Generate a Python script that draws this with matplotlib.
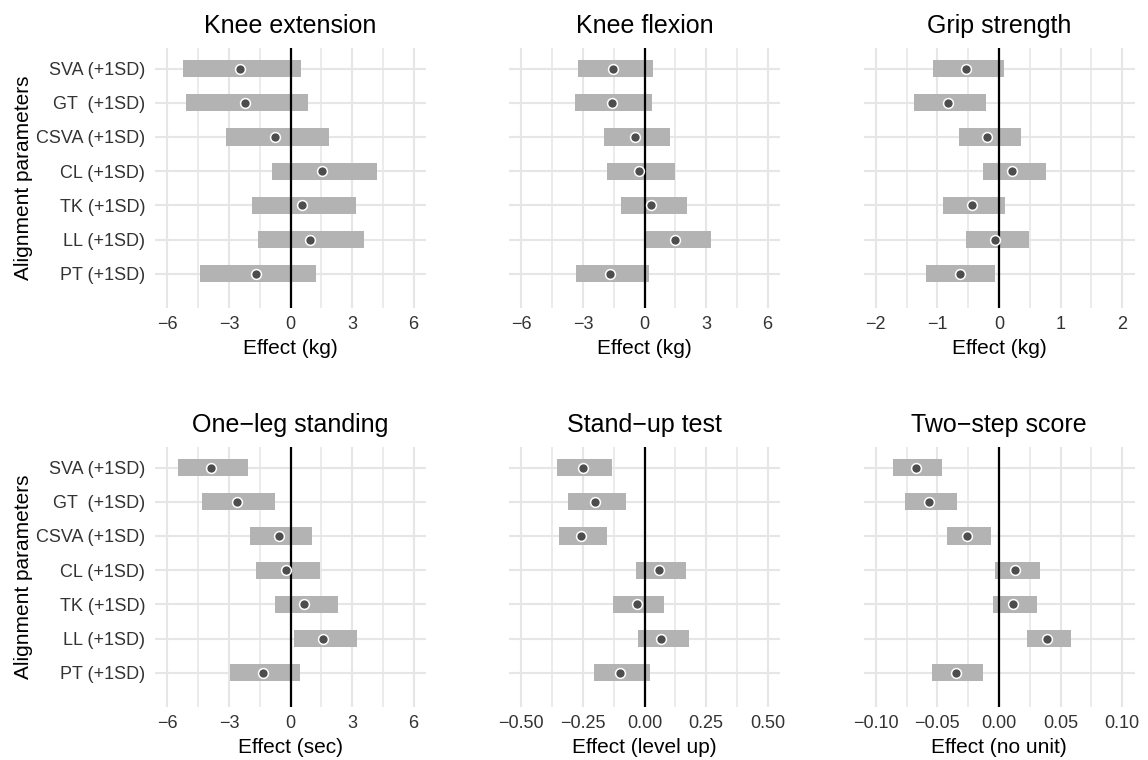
import numpy as np
import matplotlib
matplotlib.use("Agg")
import matplotlib.pyplot as plt
from matplotlib.ticker import MultipleLocator

plt.rcParams['font.family'] = ['Liberation Sans', 'DejaVu Sans']

# -------------------------------
# Data (rows top to bottom)
# -------------------------------
params = ["SVA (+1SD)", "GT  (+1SD)", "CSVA (+1SD)", "CL (+1SD)",
          "TK (+1SD)", "LL (+1SD)", "PT (+1SD)"]

knee_ext_est = [-2.46, -2.22, -0.76, 1.54, 0.57, 0.94, -1.69]
knee_ext_lo = [-5.24, -5.09, -3.16, -0.92, -1.88, -1.56, -4.41]
knee_ext_hi = [0.49, 0.84, 1.86, 4.22, 3.19, 3.60, 1.22]

knee_flex_est = [-1.52, -1.60, -0.44, -0.27, 0.33, 1.49, -1.66]
knee_flex_lo = [-3.24, -3.40, -1.95, -1.81, -1.16, 0.06, -3.36]
knee_flex_hi = [0.39, 0.35, 1.25, 1.47, 2.06, 3.22, 0.21]

grip_est = [-0.53, -0.83, -0.19, 0.21, -0.44, -0.06, -0.64]
grip_lo = [-1.07, -1.38, -0.65, -0.26, -0.91, -0.53, -1.18]
grip_hi = [0.08, -0.21, 0.35, 0.76, 0.09, 0.49, -0.06]

oneleg_est = [-3.86, -2.63, -0.55, -0.21, 0.66, 1.59, -1.33]
oneleg_lo = [-5.46, -4.33, -1.99, -1.69, -0.76, 0.15, -2.97]
oneleg_hi = [-2.08, -0.75, 1.05, 1.43, 2.29, 3.24, 0.44]

standup_est = [-0.251, -0.201, -0.258, 0.059, -0.031, 0.069, -0.099]
standup_lo = [-0.354, -0.312, -0.348, -0.035, -0.127, -0.028, -0.205]
standup_hi = [-0.130, -0.076, -0.153, 0.170, 0.078, 0.180, 0.021]

twostep_est = [-0.0675, -0.0567, -0.0256, 0.0131, 0.0111, 0.0391, -0.0346]
twostep_lo = [-0.0858, -0.0761, -0.0422, -0.0035, -0.0052, 0.0228, -0.0540]
twostep_hi = [-0.0460, -0.0339, -0.0062, 0.0336, 0.0308, 0.0588, -0.0131]

titles = ["Knee extension", "Knee flexion", "Grip strength",
          "One\u2212leg standing", "Stand\u2212up test", "Two\u2212step score"]
xlabels = ["Effect (kg)", "Effect (kg)", "Effect (kg)",
           "Effect (sec)", "Effect (level up)", "Effect (no unit)"]
limits = [6, 6, 2, 6, 0.5, 0.10]
major_step = [3, 3, 1, 3, 0.25, 0.05]
tick_fmt = ["{:.0f}", "{:.0f}", "{:.0f}", "{:.0f}", "{:.2f}", "{:.2f}"]

panels = [
    (knee_ext_est, knee_ext_lo, knee_ext_hi),
    (knee_flex_est, knee_flex_lo, knee_flex_hi),
    (grip_est, grip_lo, grip_hi),
    (oneleg_est, oneleg_lo, oneleg_hi),
    (standup_est, standup_lo, standup_hi),
    (twostep_est, twostep_lo, twostep_hi),
]

# -------------------------------
# Layout (pixel based)
# -------------------------------
W, H = 1148, 760
fig = plt.figure(figsize=(W / 100, H / 100), dpi=100)

lefts = [155, 509, 863.5]
tops = [48, 447]
pw, ph = 271, 260

ypos = np.arange(len(params))[::-1] + 1

for k, (est, lo, hi) in enumerate(panels):
    r, c = divmod(k, 3)
    ax = fig.add_axes([lefts[c] / W, (H - tops[r] - ph) / H, pw / W, ph / H])

    lo = np.array(lo)
    hi = np.array(hi)
    ax.barh(ypos, hi - lo, left=lo, height=0.5, color='#B3B3B3',
            linewidth=0, zorder=2)
    ax.axvline(0, color='black', linewidth=1.6, zorder=3)
    ax.scatter(est, ypos, s=50, color='#4D4D4D', edgecolor='white',
               linewidth=1.1, zorder=4)

    lim = limits[k]
    step = major_step[k]
    ax.set_xlim(-lim * 1.1, lim * 1.1)
    ax.set_ylim(0, 7.6)
    ticks = np.arange(-lim, lim + step / 2, step)
    ax.set_xticks(ticks)
    ax.set_xticklabels([tick_fmt[k].format(t).replace('-', '\u2212')
                        if abs(t) > 1e-9 else tick_fmt[k].format(0) for t in ticks])
    ax.xaxis.set_minor_locator(MultipleLocator(step / 2))

    ax.set_yticks(ypos)
    if c == 0:
        ax.set_yticklabels(params)
        ax.set_ylabel("Alignment parameters", fontsize=15, labelpad=2)
    else:
        ax.set_yticklabels([])

    ax.grid(True, which='major', axis='both', color='#E6E6E6', linewidth=1.5, zorder=0)
    ax.grid(True, which='minor', axis='x', color='#E6E6E6', linewidth=1.1, zorder=0)
    ax.set_axisbelow(True)
    for s in ax.spines.values():
        s.set_visible(False)
    ax.tick_params(which='both', length=0)
    ax.tick_params(axis='x', labelsize=13, labelcolor='#333333', pad=6)
    ax.tick_params(axis='y', labelsize=13, labelcolor='#333333', pad=7)

    ax.set_title(titles[k], fontsize=18, pad=11)
    ax.set_xlabel(xlabels[k], fontsize=15, labelpad=4)

fig.savefig("out.png", dpi=100)
